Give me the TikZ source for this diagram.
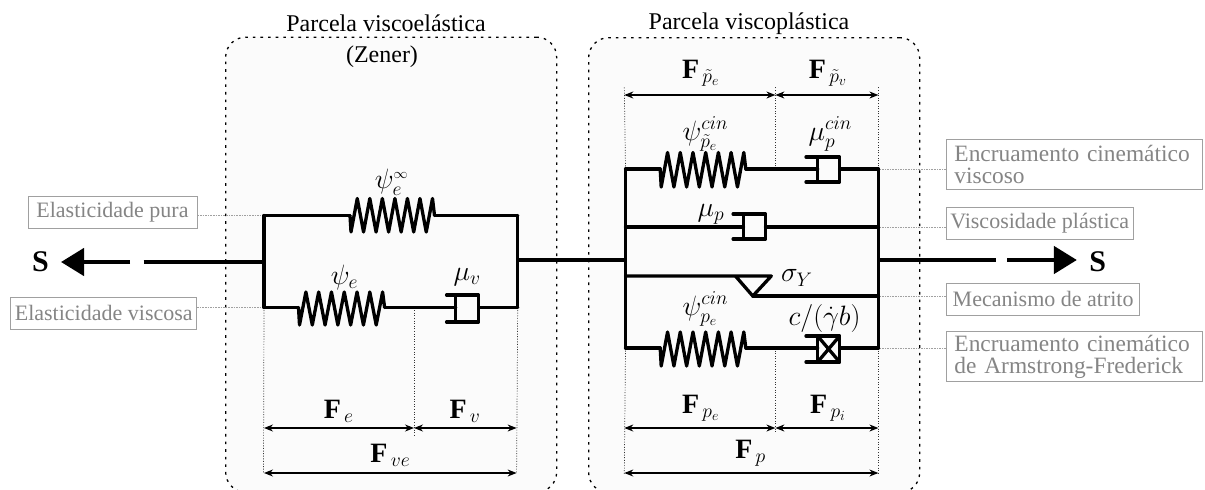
\documentclass[tikz,border=0pt]{standalone}
\usepackage{fix-cm}
\usepackage{amsmath}
\usepackage{fontspec}
\setmainfont{Liberation Serif}
\usetikzlibrary{arrows.meta}
\definecolor{panelfill}{HTML}{FBFBFB}
\definecolor{notegray}{HTML}{858585}
\definecolor{noteline}{HTML}{A0A0A0}
\tikzset{
  panel/.style={draw=black,fill=panelfill,line width=1.3pt,dash pattern=on 2.6pt off 5pt,rounded corners=20pt},
  wire/.style={line width=3.3pt,line cap=round,line join=round},
  lead/.style={line width=3.2pt},
  guide/.style={line width=.7pt,dash pattern=on 1pt off 1.6pt,black!80},
  dim/.style={line width=1.2pt,{Stealth[length=9pt,width=7pt]}-{Stealth[length=9pt,width=7pt]}},
  force/.style={line width=4.5pt,-{Triangle[length=23pt,width=27pt]}},
  note/.style={draw=noteline,line width=.9pt,text=notegray,font=\fontsize{22}{22}\selectfont,align=left,inner sep=0pt,anchor=north west},
  longnote/.style={note,font=\fontsize{23.4}{22}\selectfont},
  notelink/.style={line width=.9pt,dash pattern=on 1.6pt off 1pt,noteline},
  title/.style={font=\fontsize{24}{26}\selectfont,inner sep=0pt},
  sym/.style={font=\fontsize{28}{32}\selectfont,inner sep=0pt},
  bold/.style={font=\fontsize{30}{32}\selectfont\bfseries,inner sep=0pt},
}
\newcommand{\coil}[5]{%
  \pgfmathsetmacro{\pp}{(#2-#1-3)/6.5}%
  \draw[wire] (#1,#3) \foreach \k in {0,...,6} {
     -- ({#1+1+\k*\pp},#5) -- ({#1+1+(\k+.5)*\pp},#4)} -- (#2,#3);}
\newcommand{\damper}[5]{%
  \draw[wire] (#1,#4) -- (#3,#4) -- (#3,#5) -- (#1,#5);
  \draw[wire] (#2,#4) -- (#2,#5);}
\newcommand{\mF}{\mathbf{F}}
\begin{document}
\begin{tikzpicture}[x=1pt,y=-1pt]
\useasboundingbox (0,0) rectangle (1205,490);
\clip (0,0) rectangle (1205,490);
\fill[white] (0,0) rectangle (1205,490);
\node[panel,minimum width=331pt,minimum height=455pt,anchor=north west,inner sep=0pt] (pve) at (225,36.5) {};
\node[panel,minimum width=331pt,minimum height=455pt,anchor=north west,inner sep=0pt] (pvp) at (588,37) {};
\node[title] (t1) at (386,23) {Parcela viscoelástica};
\node[title] (t2) at (382,57) {(Zener)};
\node[title] (t3) at (749,24) {Parcela viscoplástica};

% named points
\coordinate (zl) at (264,262);
\coordinate (ztl) at (264,215.5);
\coordinate (ztr) at (517.7,215.5);
\coordinate (zbl) at (264,307.5);
\coordinate (zbr) at (517.7,307.5);
\coordinate (zr) at (517.7,260);
\coordinate (zm) at (414,307.5);
\coordinate (pl) at (625.5,260);
\coordinate (pr) at (878.4,260);
\coordinate (p1l) at (625.5,169);
\coordinate (p1r) at (878.4,169);
\coordinate (p1m) at (775.4,169);
\coordinate (p2l) at (625.5,227);
\coordinate (p2r) at (878.4,227);
\coordinate (p3l) at (625.5,276);
\coordinate (p3r) at (878.4,296);
\coordinate (p4l) at (625.5,348);
\coordinate (p4r) at (878.4,348);
\coordinate (p4m) at (775.4,348);

% guides
\draw[guide] (zbl) -- (263.5,473);
\draw[guide] (zm) -- (414,435);
\draw[guide] (zbr) -- (516.6,473);
\draw[guide] (p1l) -- (624.3,87);
\draw[guide] (p1m) -- (775.4,87);
\draw[guide] (p1r) -- (878.4,87);
\draw[guide] (p4l) -- (624.3,474);
\draw[guide] (p4m) -- (775.4,433);
\draw[guide] (p4r) -- (878.4,474);

% notes
\node[note,minimum width=169pt,minimum height=32pt,align=center] (n1) at (27.5,196) {Elasticidade pura};
\node[note,minimum width=186pt,minimum height=32pt,align=center] (n2) at (10.3,297) {Elasticidade viscosa};
\node[longnote,text width=256pt,minimum height=50pt] (n3) at (946,139) {\hspace*{8pt}Encruamento cinemático\\\hspace*{8pt}viscoso};
\node[note,minimum width=186.5pt,minimum height=32pt,align=center] (n4) at (946,207) {Viscosidade plástica};
\node[note,minimum width=193.4pt,minimum height=32pt,align=center] (n5) at (946,283) {Mecanismo de atrito};
\node[longnote,text width=256pt,minimum height=50pt] (n6) at (946,331) {\hspace*{8pt}Encruamento cinemático\\\hspace*{8pt}de Armstrong-Frederick};
\draw[notelink] (n1.east |- ztl) -- (ztl);
\draw[notelink] (n2.east |- zbl) -- (zbl);
\draw[notelink] (n3.west |- p1r) -- (p1r);
\draw[notelink] (n4.west |- p2r) -- (p2r);
\draw[notelink] (n5.west |- p3r) -- (p3r);
\draw[notelink] (n6.west |- p4r) -- (p4r);

% Zener circuit
\draw[wire] (ztl) -- (zbl);
\draw[wire] (ztr) -- (zbr);
\draw[wire] (ztl) -- (350,215.5);
\draw[wire] (434.5,215.5) -- (ztr);
\coil{350}{434.5}{215.5}{198.5}{232}
\draw[wire] (zbl) -- (298.5,307.5);
\coil{298.5}{384.6}{307.5}{292}{325}
\draw[wire] (384.6,307.5) -- (455.8,307.5);
\damper{446.6}{455.8}{478.7}{295}{322}
\draw[wire] (478.7,307.5) -- (zbr);
\draw[lead] (143.5,262) -- (zl);
\draw[lead] (zr) -- (pl);

% Viscoplastic circuit
\draw[wire] (p1l) -- (p4l);
\draw[wire] (p1r) -- (p4r);
\draw[wire] (p1l) -- (660.2,169);
\coil{660.2}{745.8}{169}{152.5}{187}
\draw[wire] (745.8,169) -- (817.6,169);
\damper{806}{817.6}{839.6}{157}{182}
\draw[wire] (839.6,169) -- (p1r);
\draw[wire] (p2l) -- (743.5,227);
\damper{733.1}{743.5}{765.5}{214}{239}
\draw[wire] (765.5,227) -- (p2r);
\draw[wire] (p3l) -- (771.3,276) -- (752.8,296) -- (735.4,276);
\draw[wire] (752.8,296) -- (p3r);
\draw[wire] (p4l) -- (660.2,348);
\coil{660.2}{745.8}{348}{332}{366}
\draw[wire] (745.8,348) -- (817.6,348);
\damper{806}{817.6}{839.6}{336}{362}
\draw[wire] (817.6,336) -- (839.6,362) (839.6,336) -- (817.6,362);
\draw[wire] (839.6,348) -- (p4r);
\draw[lead] (pr) -- (995.9,260);

% forces
\coordinate (la) at (130,262);
\coordinate (lb) at (61,262);
\coordinate (ra) at (1007.4,260);
\coordinate (rb) at (1076.9,260);
\draw[force] (la) -- (lb);
\draw[force] (ra) -- (rb);
\node[bold] (sl) at (40.5,262) {S};
\node[bold] (sr) at (1097.7,262) {S};

% dimensions
\coordinate (d1) at (264,428);
\coordinate (d2) at (414,428);
\coordinate (d3) at (516.6,428);
\coordinate (d4) at (264,473);
\coordinate (d5) at (516.6,473);
\draw[dim] (d1) -- (d2);
\draw[dim] (d2) -- (d3);
\draw[dim] (d4) -- (d5);
\coordinate (e1) at (624.3,95);
\coordinate (e2) at (775.4,95);
\coordinate (e3) at (878.4,95);
\draw[dim] (e1) -- (e2);
\draw[dim] (e2) -- (e3);
\coordinate (f1) at (624.3,428);
\coordinate (f2) at (775.4,428);
\coordinate (f3) at (878.4,428);
\coordinate (f4) at (624.3,473);
\coordinate (f5) at (878.4,473);
\draw[dim] (f1) -- (f2);
\draw[dim] (f2) -- (f3);
\draw[dim] (f4) -- (f5);

% symbols
\node[sym] (s1) at (391.5,182) {$\psi_e^{\scriptscriptstyle\infty}$};
\node[sym] (s2) at (344.4,277) {$\psi_e$};
\node[sym] (s3) at (467.2,277) {$\mu_v$};
\node[sym] (s4) at (338.7,411) {$\mF_{\,e}$};
\node[sym] (s5) at (465,411) {$\mF_{\,v}$};
\node[sym] (s6) at (390.3,455) {$\mF_{\,ve}$};
\node[sym] (s7) at (700.7,73) {$\mF_{\,\tilde p_e}$};
\node[sym] (s8) at (828,73) {$\mF_{\,\tilde p_v}$};
\node[sym] (s9) at (705.3,134) {$\psi_{\tilde p_e}^{cin}$};
\node[sym] (s10) at (830.3,134) {$\mu_p^{cin}$};
\node[sym] (s11) at (711,214) {$\mu_p$};
\node[sym] (s12) at (796.8,278) {$\sigma_Y$};
\node[sym] (s13) at (705.3,309) {$\psi_{p_e}^{cin}$};
\node[sym] (s14) at (824.6,318) {$c/(\dot\gamma b)$};
\node[sym] (s15) at (700.7,408) {$\mF_{\,p_e}$};
\node[sym] (s16) at (828,408) {$\mF_{\,p_i}$};
\node[sym] (s17) at (750.5,453) {$\mF_{\,p}$};
\end{tikzpicture}
\end{document}
